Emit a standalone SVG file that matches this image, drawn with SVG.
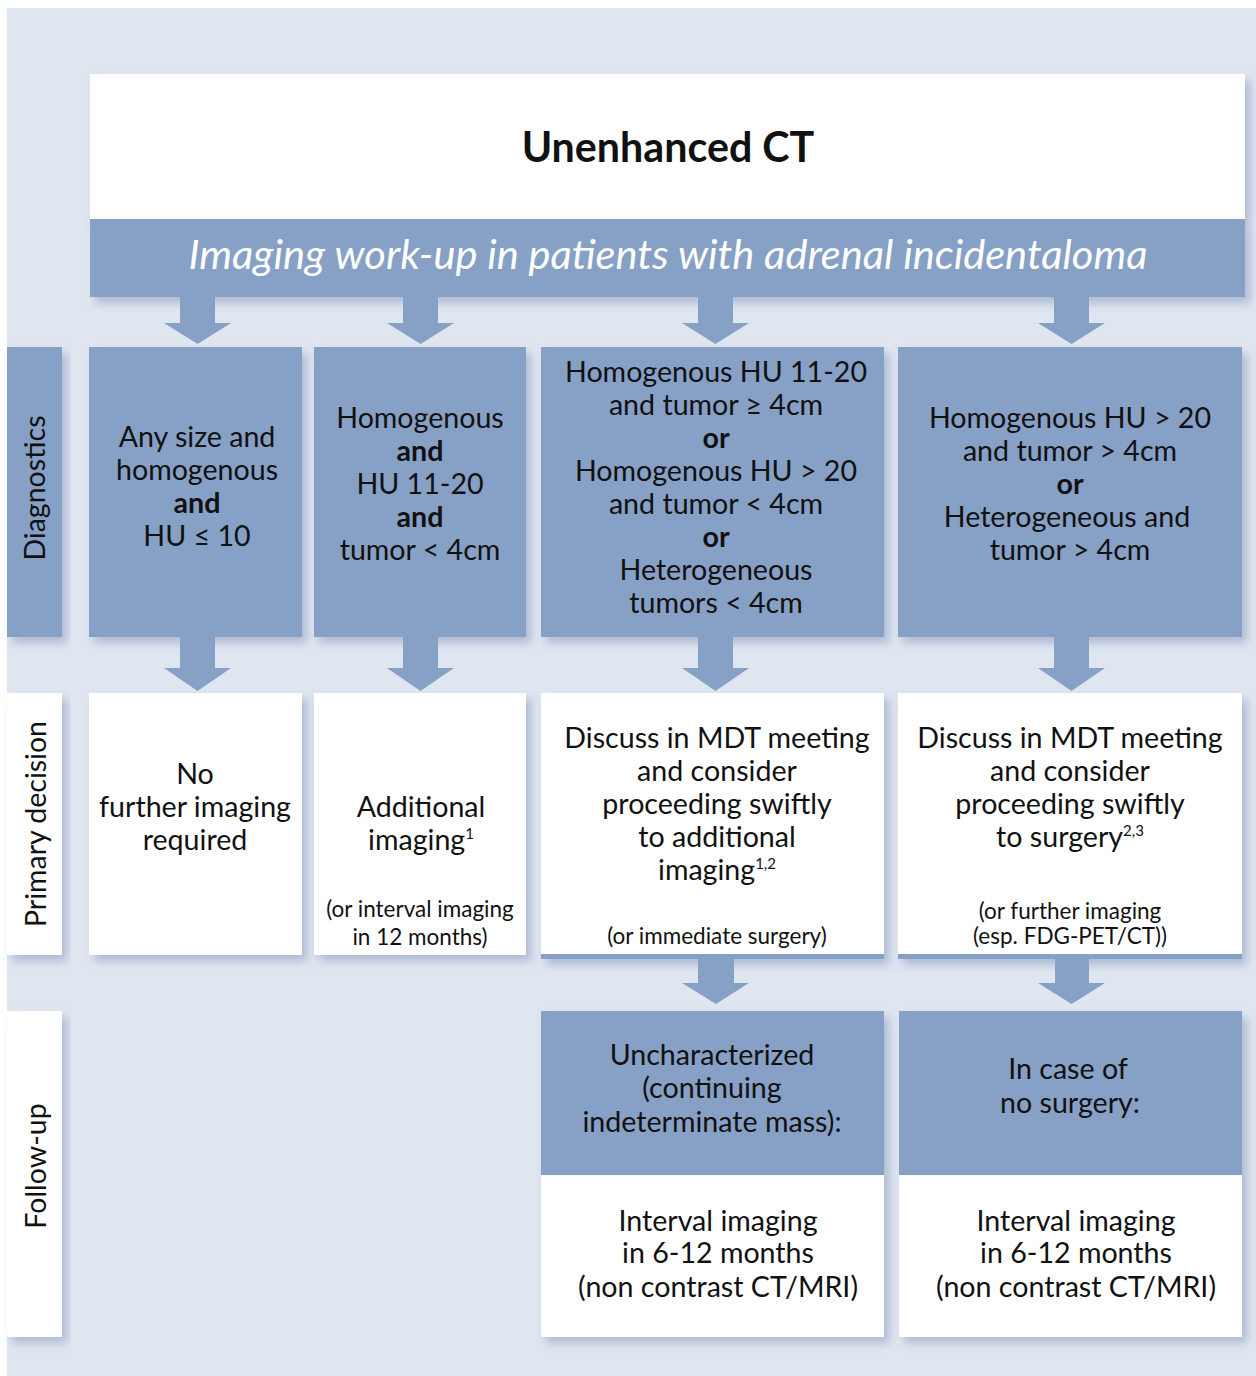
<svg xmlns="http://www.w3.org/2000/svg" width="1256" height="1376" viewBox="0 0 1256 1376">
<defs>
<filter id="sh" x="-10%" y="-10%" width="125%" height="130%">
<feDropShadow dx="5" dy="6" stdDeviation="5" flood-color="#8597bd" flood-opacity="0.55"/>
</filter>
<style>
.bg{fill:#dfe6f0}
.blue{fill:#87a0c5}
.white{fill:#ffffff}
.arrow{fill:#87a0c5}
text{font-family:Lato,"Open Sans","Liberation Sans",sans-serif;fill:#111;text-anchor:middle}
.t{font-size:28.6px}
.b{font-weight:bold}
.s{font-size:22.5px}
.side{font-size:28.5px}
.sup{font-size:15px}
.title{font-size:41.2px;font-weight:bold}
.band{font-size:41.6px;font-style:italic;fill:#ffffff}
</style>
</defs>
<rect x="0" y="0" width="1256" height="1376" fill="#ffffff"/>
<rect class="bg" x="7" y="8" width="1249" height="1368"/>

<g id="header">
<rect class="white" x="90" y="74" width="1155" height="145" filter="url(#sh)"/>
<rect class="blue" x="90" y="219" width="1155" height="78" filter="url(#sh)"/>
<text class="title" x="668" y="162">Unenhanced CT</text>
<text class="band" x="668" y="269">Imaging work-up in patients with adrenal incidentaloma</text>
</g>

<g id="label-diagnostics">
<rect class="blue" x="7" y="347" width="55" height="290" filter="url(#sh)"/>
<text class="side" transform="translate(45,488) rotate(-90)">Diagnostics</text>
</g>
<g id="label-primary">
<rect class="white" x="7" y="693" width="55" height="262" filter="url(#sh)"/>
<text class="side" transform="translate(46,824) rotate(-90)">Primary decision</text>
</g>
<g id="label-followup">
<rect class="white" x="7" y="1011" width="55" height="326" filter="url(#sh)"/>
<text class="side" transform="translate(46,1166) rotate(-90)">Follow-up</text>
</g>

<g id="diag1">
<rect class="blue" x="89" y="347" width="213" height="290" filter="url(#sh)"/>
<text class="t" x="197" y="447">Any size and</text>
<text class="t" x="197" y="480">homogenous</text>
<text class="t b" x="197" y="513">and</text>
<text class="t" x="197" y="546">HU ≤ 10</text>
</g>
<g id="diag2">
<rect class="blue" x="314" y="347" width="212" height="290" filter="url(#sh)"/>
<text class="t" x="420" y="428">Homogenous</text>
<text class="t b" x="420" y="461">and</text>
<text class="t" x="420" y="494">HU 11-20</text>
<text class="t b" x="420" y="527">and</text>
<text class="t" x="420" y="560">tumor &lt; 4cm</text>
</g>
<g id="diag3">
<rect class="blue" x="541" y="347" width="343" height="290" filter="url(#sh)"/>
<text class="t" x="716" y="382">Homogenous HU 11-20</text>
<text class="t" x="716" y="415">and tumor ≥ 4cm</text>
<text class="t b" x="716" y="448">or</text>
<text class="t" x="716" y="481">Homogenous HU &gt; 20</text>
<text class="t" x="716" y="514">and tumor &lt; 4cm</text>
<text class="t b" x="716" y="547">or</text>
<text class="t" x="716" y="580">Heterogeneous</text>
<text class="t" x="716" y="613">tumors &lt; 4cm</text>
</g>
<g id="diag4">
<rect class="blue" x="898" y="347" width="344" height="290" filter="url(#sh)"/>
<text class="t" x="1070" y="428">Homogenous HU &gt; 20</text>
<text class="t" x="1070" y="461">and tumor &gt; 4cm</text>
<text class="t b" x="1070" y="494">or</text>
<text class="t" x="1067" y="527">Heterogeneous and</text>
<text class="t" x="1070" y="560">tumor &gt; 4cm</text>
</g>

<g id="prim1">
<rect class="white" x="89" y="693" width="213" height="262" filter="url(#sh)"/>
<text class="t" x="195" y="784">No</text>
<text class="t" x="195" y="817">further imaging</text>
<text class="t" x="195" y="850">required</text>
</g>
<g id="prim2">
<rect class="white" x="314" y="693" width="212" height="262" filter="url(#sh)"/>
<text class="t" x="421" y="817">Additional</text>
<text class="t" x="421" y="850">imaging<tspan class="sup" dy="-11">1</tspan></text>
<text class="s" x="420" y="917">(or interval imaging</text>
<text class="s" x="420" y="945">in 12 months)</text>
</g>
<g id="prim3">
<rect class="blue" x="541" y="693" width="343" height="266" filter="url(#sh)"/>
<rect class="white" x="541" y="693" width="343" height="261"/>
<text class="t" x="717" y="748">Discuss in MDT meeting</text>
<text class="t" x="717" y="781">and consider</text>
<text class="t" x="717" y="814">proceeding swiftly</text>
<text class="t" x="717" y="847">to additional</text>
<text class="t" x="717" y="880">imaging<tspan class="sup" dy="-11">1,2</tspan></text>
<text class="s" x="717" y="944">(or immediate surgery)</text>
</g>
<g id="prim4">
<rect class="blue" x="898" y="693" width="344" height="266" filter="url(#sh)"/>
<rect class="white" x="898" y="693" width="344" height="261"/>
<text class="t" x="1070" y="748">Discuss in MDT meeting</text>
<text class="t" x="1070" y="781">and consider</text>
<text class="t" x="1070" y="814">proceeding swiftly</text>
<text class="t" x="1070" y="847">to surgery<tspan class="sup" dy="-11">2,3</tspan></text>
<text class="s" x="1070" y="919">(or further imaging</text>
<text class="s" x="1070" y="944">(esp. FDG-PET/CT))</text>
</g>

<g id="follow3">
<rect class="white" x="541" y="1011" width="343" height="326" filter="url(#sh)"/>
<rect class="blue" x="541" y="1011" width="343" height="164"/>
<text class="t" x="712" y="1065">Uncharacterized</text>
<text class="t" x="712" y="1098">(continuing</text>
<text class="t" x="712" y="1132">indeterminate mass):</text>
<text class="t" x="718" y="1231">Interval imaging</text>
<text class="t" x="718" y="1263">in 6-12 months</text>
<text class="t" x="718" y="1297">(non contrast CT/MRI)</text>
</g>
<g id="follow4">
<rect class="white" x="899" y="1011" width="343" height="326" filter="url(#sh)"/>
<rect class="blue" x="899" y="1011" width="343" height="164"/>
<text class="t" x="1068" y="1079">In case of</text>
<text class="t" x="1070" y="1113">no surgery:</text>
<text class="t" x="1076" y="1231">Interval imaging</text>
<text class="t" x="1076" y="1263">in 6-12 months</text>
<text class="t" x="1076" y="1297">(non contrast CT/MRI)</text>
</g>

<g id="connectors">
<polygon class="arrow" points="180,297 215,297 215,323 231,323 197.5,344 164,323 180,323"/>
<polygon class="arrow" points="403,297 438,297 438,323 454,323 420.5,344 387,323 403,323"/>
<polygon class="arrow" points="698,297 733,297 733,323 749,323 715.5,344 682,323 698,323"/>
<polygon class="arrow" points="1054,297 1089,297 1089,323 1105,323 1071.5,344 1038,323 1054,323"/>
<polygon class="arrow" points="180,637 215,637 215,668 231,668 197.5,691 164,668 180,668"/>
<polygon class="arrow" points="403,637 438,637 438,668 454,668 420.5,691 387,668 403,668"/>
<polygon class="arrow" points="698,637 733,637 733,668 749,668 715.5,691 682,668 698,668"/>
<polygon class="arrow" points="1054,637 1089,637 1089,668 1105,668 1071.5,691 1038,668 1054,668"/>
<polygon class="arrow" points="698,959 734,959 734,983 749,983 716,1004 682,983 698,983"/>
<polygon class="arrow" points="1055,959 1089,959 1089,983 1105,983 1071.5,1004 1038,983 1055,983"/>
</g>
</svg>
